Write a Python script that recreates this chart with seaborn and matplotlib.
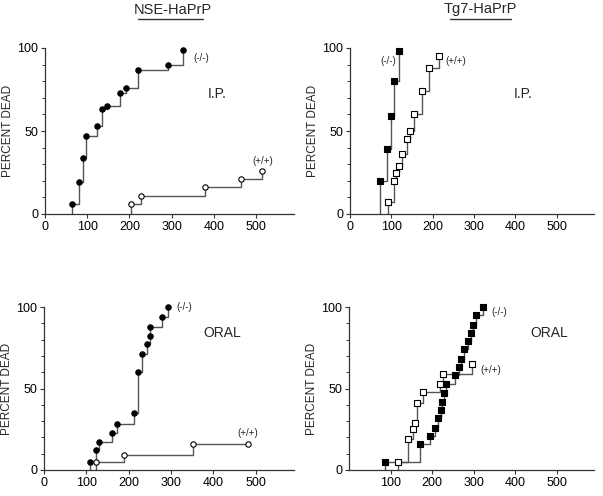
import matplotlib
matplotlib.use("Agg")
import matplotlib.pyplot as plt
import seaborn as sns
import pandas as pd
from matplotlib.lines import Line2D

# ---- data (days, percent dead) ----
nse_ip_ko_x = [65, 80, 89, 98, 124, 135, 147, 178, 191, 221, 292, 327]
nse_ip_ko_y = [6, 19, 34, 47, 53, 63, 65, 73, 76, 87, 90, 99]
nse_ip_wt_x = [204, 228, 378, 465, 515]
nse_ip_wt_y = [6, 11, 16, 21, 26]

tg7_ip_ko_x = [72, 90, 99, 107, 118]
tg7_ip_ko_y = [20, 39, 59, 80, 98]
tg7_ip_wt_x = [93, 106, 112, 119, 125, 137, 144, 155, 175, 190, 216]
tg7_ip_wt_y = [7, 20, 25, 29, 36, 45, 50, 60, 74, 88, 95]

nse_oral_ko_x = [109, 122, 130, 161, 172, 213, 221, 231, 243, 250, 251, 278, 292]
nse_oral_ko_y = [5, 12, 17, 23, 28, 35, 60, 71, 77, 82, 88, 94, 100]
nse_oral_wt_x = [122, 189, 352, 481]
nse_oral_wt_y = [5, 9, 16, 16]

tg7_oral_ko_x = [87, 172, 194, 206, 215, 221, 225, 229, 233, 256, 264, 269, 277,
                 287, 294, 299, 305, 322]
tg7_oral_ko_y = [5, 16, 21, 26, 32, 37, 42, 47, 53, 58, 63, 68, 74, 79, 84, 89, 95, 100]
tg7_oral_wt_x = [118, 143, 153, 160, 164, 177, 220, 226, 295]
tg7_oral_wt_y = [5, 19, 25, 29, 41, 48, 53, 59, 65]

x_ticks = [0, 100, 200, 300, 400, 500]
y_ticks = [0, 50, 100]
titles = ["NSE-HaPrP", "Tg7-HaPrP"]
routes = ["I.P.", "ORAL"]

sns.set_style("ticks")
plt.rcParams['font.family'] = ['Liberation Sans', 'DejaVu Sans']

W, H = 603, 496
fig = plt.figure(figsize=(W / 100, H / 100), dpi=100)

LINE_C = "#555555"
SPINE_C = "#333333"


def make_ax(left, right, y0, y100):
    return fig.add_axes([left / W, 1 - y0 / H, (right - left) / W, (y0 - y100) / H])


def draw_series(ax, xs, ys, marker, filled):
    df = pd.DataFrame({"x": [xs[0]] + list(xs), "y": [0] + list(ys)})
    sns.lineplot(data=df, x="x", y="y", ax=ax, sort=False, estimator=None,
                 drawstyle="steps-post", color=LINE_C, linewidth=1.0, clip_on=False)
    pts = pd.DataFrame({"x": xs, "y": ys})
    sns.scatterplot(data=pts, x="x", y="y", ax=ax, marker=marker, s=15,
                    facecolor="black" if filled else "white", edgecolor="black",
                    linewidth=0.8, clip_on=False, zorder=5)


def style_ax(ax, xticks):
    sns.despine(ax=ax)
    ax.set_xlim(0, 590)
    ax.set_ylim(0, 100)
    ax.set_xticks(xticks)
    ax.set_xticklabels([str(t) for t in xticks])
    ax.set_yticks(y_ticks)
    ax.set_yticks(range(10, 100, 10), minor=True)
    ax.tick_params(axis="both", which="major", direction="out", length=3, width=0.8,
                   labelsize=9, colors=SPINE_C, labelcolor="black", pad=2)
    ax.tick_params(axis="y", which="minor", direction="out", length=2.5, width=0.7,
                   colors=SPINE_C)
    for s in ("left", "bottom"):
        ax.spines[s].set_color(SPINE_C)
        ax.spines[s].set_linewidth(0.9)
    ax.set_xlabel("")
    ax.set_ylabel("PERCENT DEAD", fontsize=8.5)
    ax.yaxis.set_label_coords(-0.125, 0.5)


ax1 = make_ax(45, 294, 214, 48)
draw_series(ax1, nse_ip_ko_x, nse_ip_ko_y, "o", True)
draw_series(ax1, nse_ip_wt_x, nse_ip_wt_y, "o", False)
style_ax(ax1, x_ticks)
ax1.text(370, 94, "(-/-)", fontsize=7, ha="center", va="center")
ax1.text(515, 32, "(+/+)", fontsize=7, ha="center", va="center")
ax1.text(408, 72, routes[0], fontsize=10, ha="center", va="center")

ax2 = make_ax(350, 594, 214, 48)
draw_series(ax2, tg7_ip_ko_x, tg7_ip_ko_y, "s", True)
draw_series(ax2, tg7_ip_wt_x, tg7_ip_wt_y, "s", False)
style_ax(ax2, x_ticks)
ax2.text(92, 92, "(-/-)", fontsize=7, ha="center", va="center")
ax2.text(255, 92, "(+/+)", fontsize=7, ha="center", va="center")
ax2.text(419, 72, routes[0], fontsize=10, ha="center", va="center")

ax3 = make_ax(44, 294, 470, 307)
draw_series(ax3, nse_oral_ko_x, nse_oral_ko_y, "o", True)
draw_series(ax3, nse_oral_wt_x, nse_oral_wt_y, "o", False)
style_ax(ax3, x_ticks)
ax3.text(332, 100, "(-/-)", fontsize=7, ha="center", va="center")
ax3.text(480, 23, "(+/+)", fontsize=7, ha="center", va="center")
ax3.text(421, 84, routes[1], fontsize=10, ha="center", va="center")

ax4 = make_ax(349, 594, 470, 307)
draw_series(ax4, tg7_oral_wt_x, tg7_oral_wt_y, "s", False)
draw_series(ax4, tg7_oral_ko_x, tg7_oral_ko_y, "s", True)
style_ax(ax4, x_ticks[1:])
ax4.text(361, 97, "(-/-)", fontsize=7, ha="center", va="center")
ax4.text(341, 61.5, "(+/+)", fontsize=7, ha="center", va="center")
ax4.text(482, 84, routes[1], fontsize=10, ha="center", va="center")

# column titles with underline
for cx, x0, x1, t in [(173, 138, 203, titles[0]), (480, 450, 511, titles[1])]:
    fig.text(cx / W, 1 - 9.5 / H, t, fontsize=10.5, ha="center", va="center")
    fig.add_artist(Line2D([x0 / W, x1 / W], [1 - 18.5 / H, 1 - 18.5 / H],
                          color=SPINE_C, linewidth=1.0, transform=fig.transFigure))

fig.savefig("out.png", dpi=100)
